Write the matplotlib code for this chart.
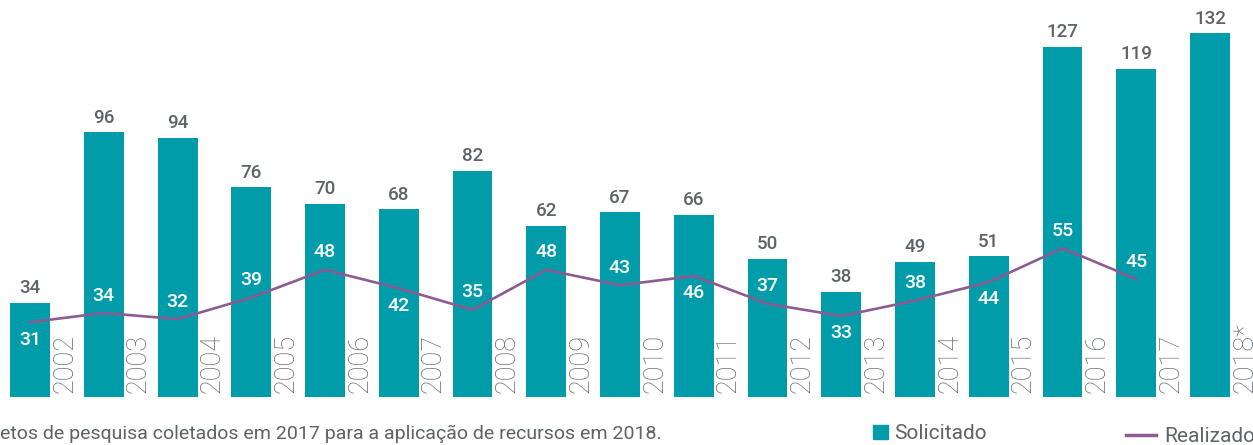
import matplotlib
matplotlib.use("Agg")
import matplotlib.pyplot as plt
from matplotlib.patches import Patch
from matplotlib.lines import Line2D

plt.rcParams["font.family"] = ["Roboto", "DejaVu Sans"]

years = ["2002", "2003", "2004", "2005", "2006", "2007", "2008", "2009", "2010",
         "2011", "2012", "2013", "2014", "2015", "2016", "2017", "2018*"]
solicitado = [34, 96, 94, 76, 70, 68, 82, 62, 67, 66, 50, 38, 49, 51, 127, 119, 132]
realizado = [31, 34, 32, 39, 48, 42, 35, 48, 43, 46, 37, 33, 38, 44, 55, 45]
# label side for the "realizado" values: +1 above the line, -1 below
lab_side = [-1, 1, 1, 1, 1, -1, 1, 1, 1, -1, 1, -1, 1, -1, 1, 1]

TEAL = "#009ca9"; PURPLE = "#8c5b94"; GREY = "#5c6369"; LGREY = "#646b72"

fig = plt.figure(figsize=(12.53, 4.45), dpi=100)
ax = fig.add_axes([0, 0.1085, 1, 0.8915])
x = list(range(len(years)))
ax.bar(x, solicitado, width=0.542, color=TEAL)
ax.set_xlim(-0.407, 16.583); ax.set_ylim(0, 144)
ax.axis("off")

for i, v in enumerate(solicitado):
    ax.annotate(str(v), (i, v), xytext=(0, 4), textcoords="offset points",
                ha="center", va="bottom", fontsize=13.5, fontweight="medium", color=GREY)
for i, y in enumerate(years):
    ax.annotate(y, (i + 0.47, 0), xytext=(0, 3), textcoords="offset points",
                rotation=90, ha="center", va="bottom", fontsize=19.5,
                fontweight="light", color=LGREY)

ax2 = ax.twinx()
ax2.set_ylim(6.8, 135.6)
ax2.axis("off")
ax2.plot(x[:len(realizado)], realizado, color=PURPLE, lw=1.9)
for i, v in enumerate(realizado):
    ax2.annotate(str(v), (i, v), xytext=(0, 12.5 * lab_side[i]), textcoords="offset points",
                 ha="center", va="center", fontsize=14, fontweight="medium", color="white")

fig.text(0.0, 0.004, "etos de pesquisa coletados em 2017 para a aplicação de recursos em 2018.",
         ha="left", va="bottom", fontsize=14, color=GREY)

l1 = fig.legend(handles=[Patch(color=TEAL, label="Solicitado")], loc="lower left",
                bbox_to_anchor=(0.682, -0.038), frameon=False, fontsize=15,
                handlelength=0.7, handleheight=0.7, handletextpad=0.3, labelcolor=GREY)
l2 = fig.legend(handles=[Line2D([], [], color=PURPLE, lw=2.5, label="Realizado")],
                loc="lower left", bbox_to_anchor=(0.884, -0.044), frameon=False,
                fontsize=15, handlelength=1.4, handletextpad=0.4, labelcolor=GREY)

fig.savefig("out.png", dpi=100)
